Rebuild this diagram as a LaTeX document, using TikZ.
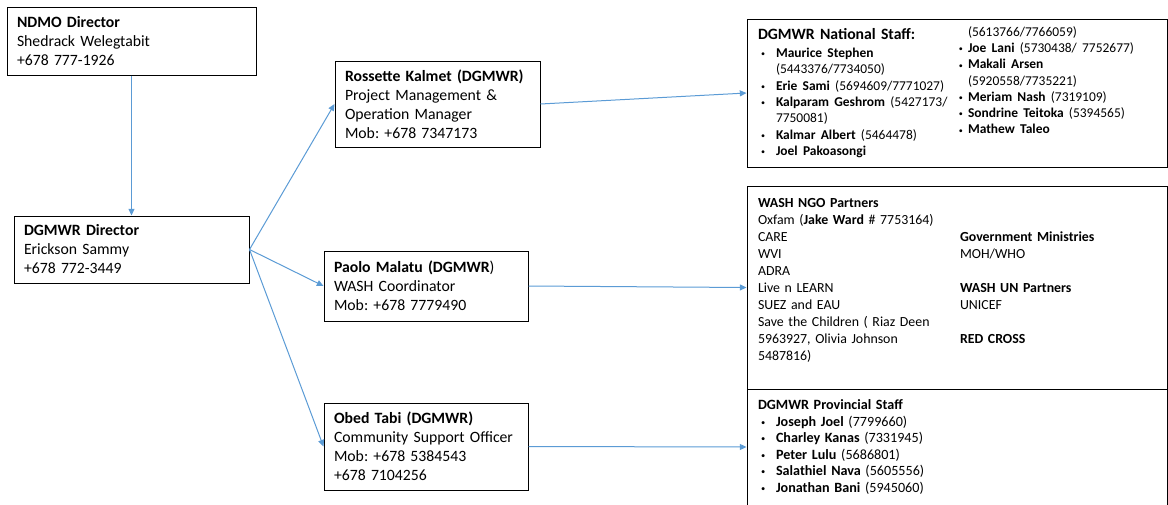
\documentclass[tikz,border=0pt]{standalone}
\usepackage{fontspec}
\usepackage{graphicx}
\setmainfont{Carlito}
\usetikzlibrary{arrows.meta}
\newlength\px
\setlength\px{0.75pt}
\definecolor{linkblue}{RGB}{91,155,213}
\frenchspacing
\newcommand\boxfont{\fontsize{11.8pt}{14.25pt}\selectfont}
\newcommand\listfont{\fontsize{10.1pt}{12.2pt}\selectfont}
\newcommand\ngofont{\fontsize{10.4pt}{12.75pt}\selectfont}
\newcommand\provfont{\fontsize{10.6pt}{12.4pt}\selectfont}
\newcommand\staffdot{\raisebox{0.6pt}{\scalebox{0.6}{\textbullet}}}
\newcommand\staff[1]{\par\hangindent=18\px\hangafter=1\noindent\hspace*{3\px}\makebox[15\px][l]{\staffdot}#1}
\newcommand\staffr[1]{\par\noindent\llap{\staffdot\hspace{5\px}}#1}
\tikzset{box/.style={draw, line width=0.75pt, inner xsep=10\px, inner ysep=0pt, align=left, font=\boxfont},
  wide/.style={box, inner xsep=11\px, text width=398\px, minimum width=420\px},
  link/.style={draw=linkblue, line width=0.75pt, -{Triangle[length=5pt,width=4.5pt]}}}

\begin{document}
\begin{tikzpicture}[x=0.75pt, y=-0.75pt]
		\useasboundingbox (0,0) rectangle (1168,504);
		\node[box, text width=229\px, minimum height=68\px] (ndmo) at (131.5,41)
		  {\textbf{NDMO Director}\\Shedrack Welegtabit\\+678 777-1926};
		\node[box, text width=215\px, minimum height=67\px] (director) at (131.5,249.5)
		  {\textbf{DGMWR Director}\\Erickson Sammy\\+678 772-3449};
		\node[box, text width=185\px, minimum height=86\px] (rossette) at (437.5,104)
		  {\textbf{Rossette Kalmet (DGMWR)}\\Project Management \&\\Operation Manager\\Mob: +678 7347173};
		\node[box, text width=184\px, minimum height=70\px] (paolo) at (426,286)
		  {\textbf{Paolo Malatu (DGMWR})\\WASH Coordinator\\Mob: +678 7779490};
		\node[box, text width=184\px, minimum height=87\px] (obed) at (426,446.5)
		  {\textbf{Obed Tabi (DGMWR)}\\Community Support Officer\\Mob: +678 5384543\\+678 7104256};
		\node[wide, minimum height=148\px] (natstaff) at (957,93)
		  {\begin{minipage}[t]{210\px}\textbf{DGMWR National Staff:}\par\vspace{1.5pt}\listfont
		   \staff{\textbf{Maurice Stephen}\\(5443376/7734050)}
		   \staff{\textbf{Erie Sami} (5694609/7771027)}
		   \staff{\textbf{Kalparam Geshrom} (5427173/\\7750081)}
		   \staff{\textbf{Kalmar Albert} (5464478)}
		   \staff{\textbf{Joel Pakoasongi}}\end{minipage}%
		   \begin{minipage}[t]{188\px}\vspace{-13\px}\listfont
		   \noindent(5613766/7766059)
		   \staffr{\textbf{Joe Lani} (5730438/ 7752677)}
		   \staffr{\textbf{Makali Arsen}\\(5920558/7735221)}
		   \staffr{\textbf{Meriam Nash} (7319109)}
		   \staffr{\textbf{Sondrine Teitoka} (5394565)}
		   \staffr{\textbf{Mathew Taleo}}\end{minipage}};
		\node[wide, minimum height=203\px, font=\ngofont] (ngo) at (957,287.5)
		  {\begin{minipage}[t]{202\px}\ngofont
		   \textbf{WASH NGO Partners}\\Oxfam (\textbf{Jake Ward} \# 7753164)\\CARE\\WVI\\ADRA\\Live n LEARN\\SUEZ and EAU\\
		   Save the Children ( Riaz Deen\\5963927, Olivia Johnson\\5487816)\\\mbox{}\end{minipage}%
		   \begin{minipage}[t]{196\px}\ngofont
		   \mbox{}\\\mbox{}\\\textbf{Government Ministries}\\MOH/WHO\\\mbox{}\\\textbf{WASH UN Partners}\\UNICEF\\\mbox{}\\
		   \textbf{RED CROSS}\end{minipage}};
		\node[wide, minimum height=116\px, font=\provfont] (prov) at (957,447)
		  {\begin{minipage}[t]{398\px}\provfont\textbf{DGMWR Provincial Staff}
		   \staff{\textbf{Joseph Joel} (7799660)}
		   \staff{\textbf{Charley Kanas} (7331945)}
		   \staff{\textbf{Peter Lulu} (5686801)}
		   \staff{\textbf{Salathiel Nava} (5605556)}
		   \staff{\textbf{Jonathan Bani} (5945060)}\end{minipage}};
		\draw[link] (ndmo.south) -- (director.north);
		\draw[link] (director.east) -- (rossette.west);
		\draw[link] (director.east) -- (paolo.west);
		\draw[link] (director.east) -- (obed.west);
		\draw[link] (rossette.east) -- (natstaff.west);
		\draw[link] (paolo.east) -- (ngo.west);
		\draw[link] (obed.east) -- (prov.west);
\end{tikzpicture}
\end{document}
